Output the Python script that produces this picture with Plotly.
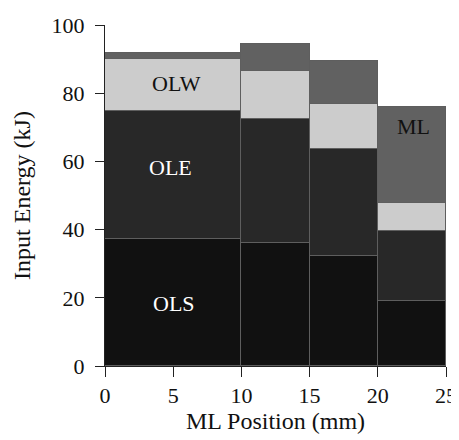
import plotly.graph_objects as go

# Bin edges along ML position (mm)
edges = [0, 10, 15, 20, 25]
# Stacked energy components (kJ) per bin
ols = [37.2, 36.2, 32.3, 19.0]
ole = [37.5, 36.3, 31.2, 20.5]
olw = [15.4, 14.0, 13.2, 8.2]
ml = [1.8, 7.8, 12.7, 28.2]

series_names = ["OLS", "OLE", "OLW", "ML"]
series_values = [ols, ole, olw, ml]
series_colors = ["#111111", "#282828", "#cccccc", "#616161"]

centers = [(a + b) / 2 for a, b in zip(edges[:-1], edges[1:])]
widths = [b - a for a, b in zip(edges[:-1], edges[1:])]

fig = go.Figure()
for name, vals, col in zip(series_names, series_values, series_colors):
    fig.add_trace(go.Bar(
        x=centers, y=vals, width=widths, name=name,
        marker=dict(color=col, line=dict(color="#5e5e5e", width=1)),
        showlegend=False,
    ))

font_family = "Liberation Serif"
FS = 22
TFS = 24
# in-chart labels: (text, x, y, color)
labels = [("OLW", 5.25, 82.8, "#111111"), ("OLE", 4.8, 58.3, "#ffffff"),
          ("OLS", 5.05, 18.4, "#ffffff"), ("ML", 22.6, 70.3, "#111111")]
for t, lx, ly, c in labels:
    fig.add_annotation(x=lx, y=ly, text=t, showarrow=False,
                       font=dict(family=font_family, size=FS, color=c))

# page body has an 8px margin, so the figure is sized to fit the 459x440 window
fig.update_layout(
    width=451, height=432,
    barmode="stack", bargap=0,
    plot_bgcolor="white", paper_bgcolor="white",
    margin=dict(l=97, r=13, t=17, b=74),
    font=dict(family=font_family, size=FS, color="#111111"),
    xaxis=dict(range=[0, 25], tickvals=[0, 5, 10, 15, 20, 25],
               showgrid=False, zeroline=False, showline=True,
               linecolor="#222222", linewidth=1, ticks="outside",
               ticklen=10, tickcolor="#222222", automargin=False,
               title=dict(text="ML Position (mm)", standoff=4,
                          font=dict(family=font_family, size=TFS))),
    yaxis=dict(range=[0, 100], tickvals=[0, 20, 40, 60, 80, 100],
               showgrid=False, zeroline=False, showline=True,
               linecolor="#222222", linewidth=1, ticks="outside",
               ticklen=9, tickcolor="#222222", automargin=False,
               ticklabelstandoff=6,
               title=dict(text="Input Energy (kJ)", standoff=14,
                          font=dict(family=font_family, size=TFS))),
)

fig.write_html("out.html")
